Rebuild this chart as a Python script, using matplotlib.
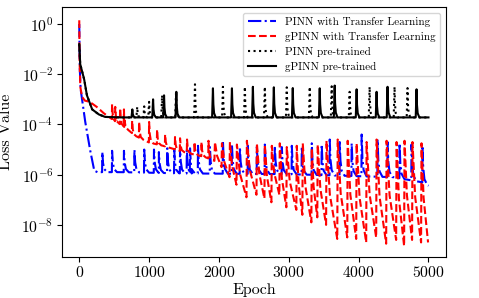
import numpy as np
import matplotlib
matplotlib.use("Agg")
import matplotlib.pyplot as plt
from matplotlib.ticker import NullLocator

plt.rcParams['font.family'] = 'serif'
plt.rcParams['font.serif'] = ['cmr10']
plt.rcParams['mathtext.fontset'] = 'cm'
plt.rcParams['axes.formatter.use_mathtext'] = True

# ---------------- data (epoch, log10 loss) ----------------
# PINN with Transfer Learning (blue)
blue_base_e = [0, 8, 20, 50, 86, 120, 157, 190, 215, 260, 600, 1500, 3000, 4500, 4900, 5000]
blue_base_v = [0.0, -1.8, -2.6, -3.2, -3.9, -4.45, -5.04, -5.5, -5.84, -5.9, -5.9, -5.95, -5.98, -6.1, -6.3, -6.44]
blue_spk_e = [330, 470, 640, 790, 930, 1070, 1140, 1260, 1360, 1443, 1540, 1586, 1700, 1871,
              2057, 2186, 2300, 2414, 2543, 2657, 2800, 2900, 3043, 3186, 3329, 3471, 3586,
              3729, 3900, 4043, 4271, 4414, 4586, 4757, 4914]
blue_spk_v = [-5.1, -5.05, -5.05, -5.0, -5.0, -5.0, -5.1, -4.95, -5.0, -4.9, -5.0, -4.95, -4.85, -4.9,
              -4.65, -4.8, -4.9, -4.85, -4.9, -4.8, -4.85, -4.9, -4.85, -4.9, -4.75, -4.8, -4.6,
              -4.7, -4.75, -4.4, -4.6, -4.7, -4.75, -4.8, -4.85]

# gPINN with Transfer Learning (red): early decay with spikes, then saw-tooth
red_base_e = [0, 5, 15, 40, 80, 150, 250, 350, 500, 650, 800, 1000, 1200, 1500, 1800, 1935]
red_base_v = [0.15, -1.5, -2.5, -2.9, -3.05, -3.1, -3.3, -3.55, -3.85, -4.1, -4.45, -4.72, -4.85, -5.1, -5.3, -5.45]
red_spk_e = [470, 515, 585, 640, 757, 857, 1000, 1114, 1229, 1371, 1443, 1543, 1650, 1750, 1850]
red_spk_v = [-3.2, -3.3, -3.35, -3.4, -3.85, -3.9, -3.9, -4.2, -4.4, -4.5, -4.55, -4.6, -4.7, -4.7, -4.65]
red_saw_e = [1943, 2043, 2157, 2257, 2400, 2543, 2657, 2757, 2871, 2971, 3114, 3200, 3329,
             3414, 3540, 3700, 3843, 3971, 4114, 4257, 4400, 4543, 4657, 4771, 4900]
red_saw_peak = [-4.7, -4.75, -4.7, -4.8, -4.65, -4.75, -4.8, -4.85, -4.75, -4.9, -4.85, -4.75, -4.95,
                -4.8, -4.65, -4.6, -4.65, -4.75, -4.7, -4.6, -4.65, -4.7, -4.65, -4.7, -4.75]
red_saw_trough = [-5.7, -6.1, -6.4, -6.9, -6.8, -6.95, -7.1, -6.8, -7.3, -7.4, -7.6, -7.9, -7.7,
                  -8.0, -8.56, -8.5, -8.56, -8.7, -8.5, -8.75, -8.6, -8.84, -8.6, -8.7, -8.7]
red_end_e = 5000

# pre-trained curves (black)
pre_base_e = [0, 14, 70, 110, 185, 280, 370, 600, 5000]
pre_base_v = [-0.8, -1.6, -2.2, -2.84, -3.4, -3.6, -3.7, -3.72, -3.72]
pinn_pre_spk_e = [830, 930, 1000, 1186, 1386, 1657, 2057, 2371, 2657, 2971, 3300, 3614, 3871, 4157, 4514, 4700]
pinn_pre_spk_v = [-3.3, -3.28, -3.1, -2.84, -2.68, -2.4, -2.5, -2.5, -2.5, -2.52, -2.5, -2.48, -2.7, -2.5, -2.5, -2.55]
gpinn_pre_spk_e = [760, 1057, 1214, 1390, 1914, 2186, 2486, 2786, 3057, 3443, 3657, 3971, 4257, 4414, 4829]
gpinn_pre_spk_v = [-3.4, -3.0, -2.84, -2.7, -2.56, -2.56, -2.5, -2.52, -2.55, -2.56, -2.45, -2.6, -2.7, -2.5, -2.6]

y_ticks = [1, 1e-2, 1e-4, 1e-6, 1e-8]
x_ticks = [0, 1000, 2000, 3000, 4000, 5000]
labels = ['PINN with Transfer Learning', 'gPINN with Transfer Learning',
          'PINN pre-trained', 'gPINN pre-trained']


def with_spikes(be, bv, se, sv, rise, width):
    be = np.asarray(be, float); bv = np.asarray(bv, float)
    xs, ys = [], []
    intervals = [(e - rise, e + width) for e in se]
    for e, v in zip(be, bv):
        if not any(a < e < b for a, b in intervals):
            xs.append(e); ys.append(v)
    for e, p in zip(se, sv):
        b0 = np.interp(e - rise, be, bv)
        b1 = np.interp(e + width, be, bv)
        pts = [(e - rise, b0), (e, p), (e + 0.15 * width, b1 + 0.45 * (p - b1)),
               (e + 0.4 * width, b1 + 0.15 * (p - b1)), (e + width, b1)]
        for x, y in pts:
            xs.append(x); ys.append(y)
    order = np.argsort(xs, kind='stable')
    return np.asarray(xs)[order], 10 ** np.asarray(ys)[order]


bx, by = with_spikes(blue_base_e, blue_base_v, blue_spk_e, blue_spk_v, 3, 70)

rx, ry = with_spikes(red_base_e, red_base_v, red_spk_e, red_spk_v, 3, 60)
sx, sy = [], []
ends = red_saw_e[1:] + [red_end_e]
for e, p, t, nxt in zip(red_saw_e, red_saw_peak, red_saw_trough, ends):
    sx += [e, e + 0.3 * (nxt - e), nxt - 6]
    sy += [p, p + 0.55 * (t - p), t]
rx = np.concatenate([rx, sx]); ry = np.concatenate([ry, 10 ** np.asarray(sy)])

kx, ky = with_spikes(pre_base_e, pre_base_v, pinn_pre_spk_e, pinn_pre_spk_v, 12, 40)
gx, gy = with_spikes(pre_base_e, pre_base_v, gpinn_pre_spk_e, gpinn_pre_spk_v, 12, 40)

fig = plt.figure(figsize=(4.79, 2.98), dpi=100)
ax = fig.add_axes([0.129, 0.1376, 0.802, 0.839])
ax.plot(bx, by, color='blue', ls='-.', lw=1.5, label=labels[0])
ax.plot(rx, ry, color='red', ls='--', lw=1.5, label=labels[1])
ax.plot(kx, ky, color='black', ls=':', lw=1.5, label=labels[2])
ax.plot(gx, gy, color='black', ls='-', lw=1.5, label=labels[3])
ax.set_yscale('log')
ax.set_xlim(-250, 5250)
ax.set_ylim(10 ** -9.28, 10 ** 0.68)
ax.set_yticks(y_ticks)
ax.yaxis.set_minor_locator(NullLocator())
ax.set_xticks(x_ticks)
ax.tick_params(labelsize=11.3, pad=2.5)
ax.set_xlabel('Epoch', fontsize=11.5, labelpad=2)
ax.set_ylabel('Loss Value', fontsize=11.5, labelpad=6)
ax.legend(loc='upper right', fontsize=8, labelspacing=0.45, handlelength=2.6)
fig.savefig('out.png', dpi=100)
